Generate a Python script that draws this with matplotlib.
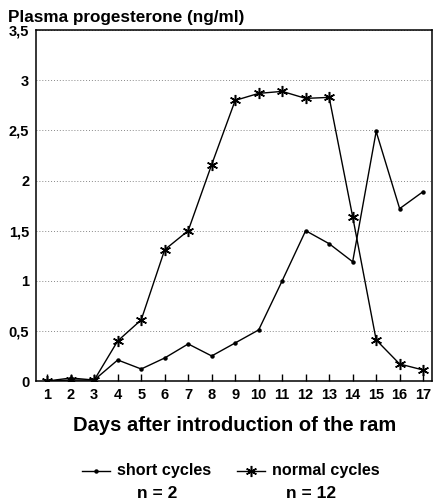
import numpy as np
import matplotlib.pyplot as plt
from matplotlib.lines import Line2D

# ---- data ----
days = list(range(1, 18))
short_cycles = [0.0, 0.03, 0.01, 0.21, 0.12, 0.23, 0.37, 0.25, 0.38, 0.51,
                1.00, 1.50, 1.37, 1.19, 2.49, 1.72, 1.89]
normal_cycles = [0.0, 0.01, 0.01, 0.40, 0.61, 1.31, 1.50, 2.16, 2.80, 2.87,
                 2.89, 2.82, 2.83, 1.64, 0.41, 0.17, 0.11]
y_ticks = [0, 0.5, 1, 1.5, 2, 2.5, 3, 3.5]
y_tick_labels = ["0", "0,5", "1", "1,5", "2", "2,5", "3", "3,5"]

plt.rcParams['font.family'] = ['Liberation Sans', 'DejaVu Sans']
plt.rcParams['font.weight'] = 'bold'

star = (6, 2, 0)  # asterisk-like marker

fig = plt.figure(figsize=(4.36, 5.04), dpi=100)
ax = fig.add_axes([0.083, 0.244, 0.908, 0.696])

ax.plot(days, short_cycles, color="black", lw=1.0, marker="o", ms=2.2)
ax.plot(days, normal_cycles, color="black", lw=1.0, marker=star, ms=8,
        markeredgewidth=1.1)

ax.set_xlim(0.53, 17.38)
ax.set_ylim(0, 3.5)
ax.set_xticks(days)
ax.set_xticklabels([str(d) for d in days], fontsize=10.5, fontweight="bold")
ax.set_yticks(y_ticks)
ax.set_yticklabels(y_tick_labels, fontsize=10.5, fontweight="bold")
ax.tick_params(axis="x", direction="in", length=5, width=1, pad=5)
ax.tick_params(axis="y", direction="in", length=0, pad=5)
ax.yaxis.grid(True, linestyle=(0, (1, 2)), color="#888888", lw=0.7)
for sp in ax.spines.values():
    sp.set_linewidth(1.1)

ax.set_xlabel("Days after introduction of the ram", fontsize=14.5,
              fontweight="bold", labelpad=10)
fig.text(0.018, 0.966, "Plasma progesterone (ng/ml)", fontsize=12.3,
         fontweight="bold", ha="left", va="center")

# legend drawn below the axes
fig.add_artist(Line2D([0.188, 0.252], [0.0655, 0.0655], color="black", lw=1.0,
                      transform=fig.transFigure))
fig.add_artist(Line2D([0.220], [0.0655], color="black", marker="o", ms=2.2,
                      transform=fig.transFigure))
fig.text(0.268, 0.0655, "short cycles", fontsize=11.6, fontweight="bold",
         va="center", ha="left")
fig.add_artist(Line2D([0.544, 0.608], [0.0655, 0.0655], color="black", lw=1.0,
                      transform=fig.transFigure))
fig.add_artist(Line2D([0.576], [0.0655], color="black", marker=star, ms=8,
                      markeredgewidth=1.1, transform=fig.transFigure))
fig.text(0.624, 0.0655, "normal cycles", fontsize=11.6, fontweight="bold",
         va="center", ha="left")
fig.text(0.36, 0.02, "n = 2", fontsize=12.5, fontweight="bold",
         va="center", ha="center")
fig.text(0.714, 0.02, "n = 12", fontsize=12.5, fontweight="bold",
         va="center", ha="center")

fig.savefig("out.png", dpi=100)
